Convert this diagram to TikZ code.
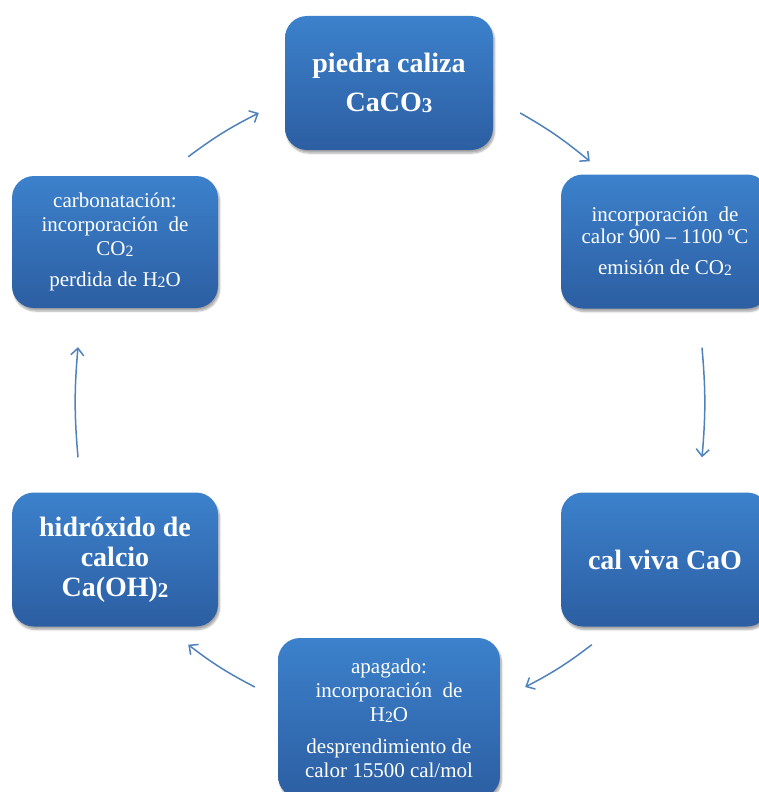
\documentclass[tikz,border=0pt]{standalone}
\usepackage{fontspec}
\setmainfont{Liberation Serif}
\usetikzlibrary{arrows.meta,shadows.blur}
\definecolor{boxtop}{RGB}{60,129,204}
\definecolor{boxbot}{RGB}{44,94,162}
\definecolor{arrowblue}{RGB}{79,129,189}
\newcommand{\chemsub}[1]{\raisebox{-0.05em}{\scalebox{0.75}{#1}}}

\begin{document}
\begin{tikzpicture}[x=1pt, y=-1pt,
	main/.style={rounded corners=22pt, top color=boxtop, bottom color=boxbot, text=white, align=center, inner sep=0pt, minimum width=208pt, minimum height=134pt, blur shadow={shadow xshift=1.5pt, shadow yshift=-3pt, shadow blur steps=6, shadow opacity=35}},
	big/.style={main, font=\bfseries\fontsize{28}{30}\selectfont},
	small/.style={main, font=\fontsize{21}{24}\selectfont},
	arr/.style={draw=arrowblue, line width=1.5pt, -{Straight Barb[length=7pt,width=13pt]}, bend left=5}]
		\useasboundingbox (0,0) rectangle (758,792);

		\node[big] (1) at (389,83) {piedra caliza\\[9pt]CaCO\chemsub{3}};
		\node[small, font=\fontsize{21}{21.5}\selectfont] (2) at (665,241.5) {incorporación\hspace{.5em}de\\calor 900 – 1100 ºC\\[10pt]emisión de CO\chemsub{2}};
		\node[big] (3) at (665,559.5) {cal viva CaO};
		\node[small, minimum width=222pt, minimum height=160pt] (4) at (389,718) {apagado:\\incorporación\hspace{.5em}de\\H\chemsub{2}O\\[8pt]desprendimiento de\\calor 15500 cal/mol};
		\node[big, minimum width=206pt] (5) at (115,559.5) {hidróxido de\\calcio\\Ca(OH)\chemsub{2}};
		\node[small, minimum width=206pt, minimum height=132pt] (6) at (115,242) {carbonatación:\\incorporación\hspace{.5em}de\\CO\chemsub{2}\\[7pt]perdida de H\chemsub{2}O};

		\draw[arr] ([shift={(-30,-19)}]6.north east) to ([shift={(-26,30)}]1.west);
		\draw[arr] ([shift={(27,30)}]1.east) to ([shift={(29,-13)}]2.north west);
		\draw[arr] ([shift={(37,39)}]2.south) to ([shift={(37,-35)}]3.north);
		\draw[arr] ([shift={(31,18)}]3.south west) to ([shift={(25,-31)}]4.east);
		\draw[arr] ([shift={(-23,-31)}]4.west) to ([shift={(-30,18)}]5.south east);
		\draw[arr] ([shift={(-37,-35)}]5.north) to ([shift={(-37,39)}]6.south);
	\end{tikzpicture}
\end{document}
